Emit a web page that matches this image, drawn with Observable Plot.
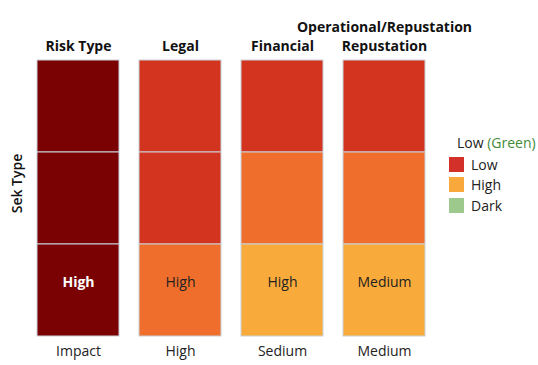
<!DOCTYPE html>
<html>
<head>
<meta charset="utf-8">
<script src="https://cdn.jsdelivr.net/npm/d3@7"></script>
<script src="https://cdn.jsdelivr.net/npm/@observablehq/plot@0.6"></script>
<style>
  html, body { margin: 0; padding: 0; background: #fff; }
  #wrap { position: relative; width: 538px; height: 365px; font-family: "Open Sans", sans-serif; }
  #legend { position: absolute; left: 449px; top: 132px; font-size: 14px; color: #222; white-space: nowrap; }
  #legend .title { margin-left: 8px; height: 22px; line-height: 22px; }
  #legend .title .g { color: #3f8a3a; }
  #legend .item { display: flex; align-items: center; height: 20.5px; }
  #legend .sw { width: 15px; height: 15px; margin-right: 7px; }
</style>
</head>
<body>
<div id="wrap"></div>
<script>
// ---- data ----
const columns = ["Risk Type", "Legal", "Financial", "Operational/Repustation"];
const rowIds = ["Row 1", "Row 2", "Row 3"];
const levels = ["Critical", "Severe", "Elevated", "Moderate"];
const levelColors = ["#7a0202", "#d3341f", "#ef6e2c", "#f8ab3b"];
const row1Levels = ["Critical", "Severe", "Severe", "Severe"];
const row2Levels = ["Critical", "Severe", "Elevated", "Elevated"];
const row3Levels = ["Critical", "Elevated", "Moderate", "Moderate"];
const row3Labels = ["High", "High", "High", "Medium"];
const bottomLabels = ["Impact", "High", "Sedium", "Medium"];
const yTitle = "Sek Type";
const legendTitle = "Low";
const legendTitleNote = "(Green)";
const legendLabels = ["Low", "High", "Dark"];
const legendColors = ["#d3302a", "#f9a93b", "#9dc98c"];

// ---- build tables ----
const rowLevels = [row1Levels, row2Levels, row3Levels];
const cells = [];
rowIds.forEach((r, i) => columns.forEach((c, j) => cells.push({row: r, col: c, level: rowLevels[i][j]})));
const cellLabels = columns.map((c, j) => ({row: rowIds[2], col: c, text: row3Labels[j], level: row3Levels[j]}));

const chart = Plot.plot({
  width: 538,
  height: 365,
  marginLeft: 36,
  marginRight: 111,
  marginTop: 60,
  marginBottom: 29,
  style: {fontFamily: "Open Sans, sans-serif", background: "#fff"},
  x: {domain: columns, paddingInner: 0.195, paddingOuter: 0, axis: null},
  y: {domain: rowIds, padding: 0, axis: null},
  color: {domain: levels, range: levelColors},
  marks: [
    Plot.cell(cells, {x: "col", y: "row", fill: "level", stroke: "#c9d2dc", strokeWidth: 1, inset: 0}),
    Plot.text(cellLabels.filter(d => d.level === "Critical"), {
      x: "col", y: "row", text: "text", fontSize: 14, dy: -8, fill: "#fff", fontWeight: "bold"
    }),
    Plot.text(cellLabels.filter(d => d.level !== "Critical"), {
      x: "col", y: "row", text: "text", fontSize: 14, dy: -8, fill: "#222"
    }),
    Plot.axisX({
      anchor: "top", tickSize: 0, tickPadding: 10, fontSize: 14, fontWeight: "bold",
      label: null, color: "#111", lineHeight: 1.35,
      tickFormat: d => d === "Operational/Repustation" ? "Operational/Repustation\nRepustation" : d
    }),
    Plot.axisX({
      anchor: "bottom", tickSize: 0, tickPadding: 10, fontSize: 14, label: null, color: "#222",
      tickFormat: d => bottomLabels[columns.indexOf(d)]
    }),
    Plot.text([yTitle], {frameAnchor: "left", textAnchor: "middle", rotate: -90, dx: -19, dy: -15, text: d => d, fontSize: 14, fontWeight: 600, fill: "#111"})
  ]
});

const wrap = document.getElementById("wrap");
wrap.appendChild(chart);

const legend = document.createElement("div");
legend.id = "legend";
legend.innerHTML = `<div class="title">${legendTitle} <span class="g">${legendTitleNote}</span></div>` +
  legendLabels.map((l, i) => `<div class="item"><span class="sw" style="background:${legendColors[i]}"></span>${l}</div>`).join("");
wrap.appendChild(legend);
</script>
</body>
</html>
